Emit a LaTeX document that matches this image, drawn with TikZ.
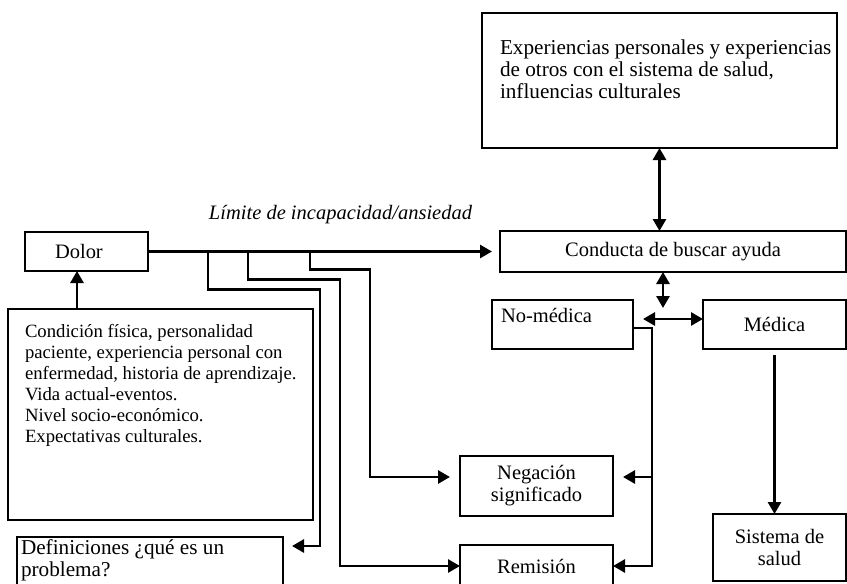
\documentclass[tikz,border=0pt]{standalone}
\usepackage{fontspec}
\setmainfont{Liberation Serif}
\usetikzlibrary{arrows.meta}
\newcommand\fsmain{\fontsize{20.5}{22}\selectfont}
\newcommand\fslarge{\fontsize{21.2}{22}\selectfont}
\newcommand\fssmall{\fontsize{18.7}{21}\selectfont}
\begin{document}
\begin{tikzpicture}[x=1pt,y=-1pt,
  box/.style={draw, line width=2.6pt, inner sep=0pt, outer sep=0pt, anchor=north west, font=\fsmain, align=center},
  txt/.style={inner sep=0pt, outer sep=0pt, font=\fsmain, align=left},
  con/.style={line width=2.8pt},
  arr/.style={con, -{Triangle[length=12pt,width=13pt]}},
  dbl/.style={con, {Triangle[length=12pt,width=13pt]}-{Triangle[length=12pt,width=13pt]}},
]
\useasboundingbox (0,0) rectangle (847,584);
\fill[white] (0,0) rectangle (847,584);
\clip (0,0) rectangle (847,584);

% boxes
\node[box, minimum width=355pt, minimum height=135pt] (exp) at (482,13) {};
\node[txt, anchor=north west, font=\fslarge] (exptxt) at (500,40) {Experiencias personales y experiencias\\de otros con el sistema de salud,\\influencias culturales};
\node[box, minimum width=346pt, minimum height=41pt] (cond) at (500,231) {Conducta de buscar ayuda};
\node[box, minimum width=141pt, minimum height=49pt] (nomed) at (492,300) {};
\node[txt, anchor=base west] (nomedtxt) at (501,322) {No-médica};
\node[box, minimum width=143pt, minimum height=49pt] (med) at (703,300) {Médica};
\node[box, minimum width=133pt, minimum height=67pt] (sis) at (713,514) {Sistema de\\salud};
\node[box, minimum width=153pt, minimum height=60pt] (neg) at (460,456) {Negación\\significado};
\node[box, minimum width=153pt, minimum height=42pt] (rem) at (460,545) {Remisión};
\node[box, minimum width=123pt, minimum height=39pt, text width=63pt, inner xsep=30pt, align=left] (dolor) at (25,232) {Dolor};
\node[box, minimum width=305pt, minimum height=211pt] (big) at (8,309) {};
\node[txt, anchor=north west, font=\fssmall] (bigtxt) at (25,324.5) {Condición física, personalidad\\paciente, experiencia personal con\\enfermedad, historia de aprendizaje.\\Vida actual-eventos.\\Nivel socio-económico.\\Expectativas culturales.};
\node[box, minimum width=266pt, minimum height=63pt] (def) at (17,537) {};
\node[txt, anchor=north west, font=\fslarge] (deftxt) at (21,540) {Definiciones ¿qué es un\\problema?};
\node[font=\fsmain\itshape, inner sep=0pt] (lim) at (340.5,215) {Límite de incapacidad/ansiedad};

% helper coordinates
\coordinate (j1) at (663,308);
\coordinate (j2) at (643,319);
\coordinate (nm) at (652,328);
\coordinate (b1) at (208,251.5);
\coordinate (b2) at (248,251.5);
\coordinate (b3) at (310,251.5);
\coordinate (defR) at (292,546);
\coordinate (negL) at ([yshift=9pt]neg.west);
\coordinate (negR) at ([yshift=9pt]neg.east);

% connectors
\draw[dbl] (exp.south) -- (exp.south |- cond.north);
\draw[dbl] (cond.south -| j1) -- (j1);
\draw[dbl] (j2) -- (j2 -| med.west);
\draw[arr] (nomed.east |- nm) -- (nm) |- (rem.east);
\draw[arr] (nm |- negR) -- ([xshift=10pt]negR);
\draw[arr] ([yshift=-6pt]med.south) -- (med.south |- sis.north);
\draw[arr] (dolor.east) -- ([xshift=-8pt]cond.west);
\draw[arr] ([xshift=69pt]big.north west) -- ([xshift=52pt]dolor.south west);
\draw[arr] (b1) -- ++(0,38) -- ++(112,0) |- (defR);
\draw[arr] (b2) -- ++(0,28) -- ++(92,0) |- (rem.west);
\draw[arr] (b3) -- ++(0,18) -- ++(60,0) |- ([xshift=-10pt]negL);
\end{tikzpicture}
\end{document}
